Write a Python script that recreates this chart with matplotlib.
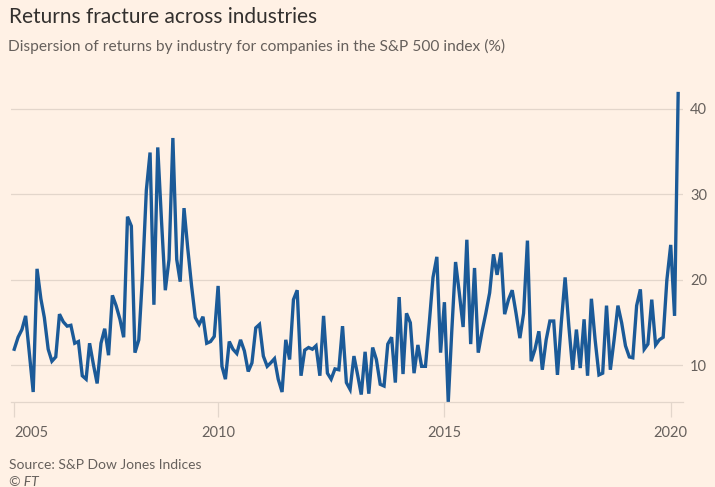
import numpy as np
import pandas as pd
import matplotlib
matplotlib.use("Agg")
import matplotlib.pyplot as plt

# monthly dispersion of returns (%), Jul 2005 - Mar 2020
start_month = "2005-07-01"
disp_2005_2007 = [11.9, 13.3, 14.2, 15.8, 11.3, 6.9, 21.3, 17.8, 15.6, 11.9,
                  10.5, 11.0, 16.0, 15.1, 14.6, 14.7, 12.6, 12.8, 8.8, 8.4,
                  12.6, 10.1, 7.9, 12.6, 14.3, 11.2, 18.2, 17.0, 15.4, 13.3]
disp_2008_2010 = [27.4, 26.3, 11.5, 13.0, 20.5, 30.5, 34.9, 17.1, 35.5, 27.0,
                  18.8, 22.4, 36.6, 22.4, 19.8, 28.4, 23.7, 19.3, 15.6, 14.8,
                  15.7, 12.6, 12.8, 13.4, 19.3, 9.9, 8.4, 12.8, 11.9, 11.4]
disp_2010_2012 = [13.0, 11.7, 9.3, 10.3, 14.4, 14.8, 11.1, 9.9, 10.3, 10.8,
                  8.4, 6.9, 13.0, 10.7, 17.7, 18.8, 8.8, 11.8, 12.1, 11.9,
                  12.3, 8.8, 15.8, 9.1, 8.4, 9.6, 9.5, 14.6, 8.0, 7.2]
disp_2013_2015 = [11.1, 8.8, 6.6, 11.6, 6.7, 12.1, 10.7, 7.8, 7.6, 12.5,
                  13.3, 8.0, 18.0, 9.0, 16.1, 15.0, 9.1, 12.4, 9.9, 9.9,
                  15.0, 20.3, 22.7, 11.5, 17.4, 5.7, 13.9]
disp_2015_2017 = [22.1, 18.5, 14.5, 24.7, 12.5, 21.4, 11.5, 14.0, 16.1, 18.5,
                  23.0, 20.6, 23.2, 16.0, 17.7, 18.8, 16.1, 13.2, 16.1, 24.6,
                  10.5, 11.9, 14.0, 9.5, 13.0, 15.2, 15.2, 8.9, 15.0, 20.3]
disp_2018_2020 = [14.6, 9.5, 14.2, 9.7, 15.4, 8.8, 17.8, 13.0, 8.9, 9.1,
                  17.0, 9.5, 13.0, 17.0, 15.0, 12.3, 11.0, 10.9, 17.0, 18.9,
                  11.9, 12.5, 17.7, 12.4, 13.0, 13.3, 20.0, 24.1, 15.8, 41.8]

tick_dates = ["2005-07-01", "2010-01-01", "2015-01-01", "2020-01-01"]
tick_labels = ["2005", "2010", "2015", "2020"]
y_ticks = [10, 20, 30, 40]

values = (disp_2005_2007 + disp_2008_2010 + disp_2010_2012 +
          disp_2013_2015 + disp_2015_2017 + disp_2018_2020)
dates = pd.date_range(start_month, periods=len(values), freq="MS")

bg = "#fff1e5"
grid_col = "#e3d6cb"
text_grey = "#66605c"
line_col = "#1b5a98"

plt.rcParams["font.family"] = ["Lato", "DejaVu Sans"]

fig = plt.figure(figsize=(7.15, 4.87), dpi=100, facecolor=bg)
ax = fig.add_axes([0.0154, 0.174, 0.94, 0.641], facecolor=bg)

ax.plot(dates, values, color=line_col, linewidth=2.4, solid_joinstyle="miter")

ax.set_xlim(pd.Timestamp("2005-06-05"), pd.Timestamp("2020-04-10"))
ax.set_ylim(5.7, 42.2)

ax.set_yticks(y_ticks)
ax.yaxis.tick_right()
ax.tick_params(axis="y", length=0, pad=5, labelsize=10.5, labelcolor=text_grey)
ax.grid(axis="y", color=grid_col, linewidth=0.9)

ax.set_xticks([pd.Timestamp(d) for d in tick_dates])
ax.set_xticklabels(tick_labels)
ax.tick_params(axis="x", length=11, width=0.9, color=grid_col, pad=6,
               labelsize=10.5, labelcolor=text_grey)
ax.get_xticklabels()[0].set_horizontalalignment("left")

for side in ["top", "left", "right"]:
    ax.spines[side].set_visible(False)
ax.spines["bottom"].set_color(grid_col)
ax.spines["bottom"].set_linewidth(0.9)

fig.text(0.012, 0.965, "Returns fracture across industries", fontsize=15,
         color="#33302e", va="center")
fig.text(0.011, 0.905, "Dispersion of returns by industry for companies in the S&P 500 index (%)",
         fontsize=11.2, color=text_grey, va="center")
fig.text(0.012, 0.045, "Source: S&P Dow Jones Indices", fontsize=10,
         color=text_grey, va="center")
fig.text(0.012, 0.01, "\u00a9 FT", fontsize=10, color=text_grey,
         style="italic", va="center")

fig.savefig("out.png", dpi=100, facecolor=bg)
